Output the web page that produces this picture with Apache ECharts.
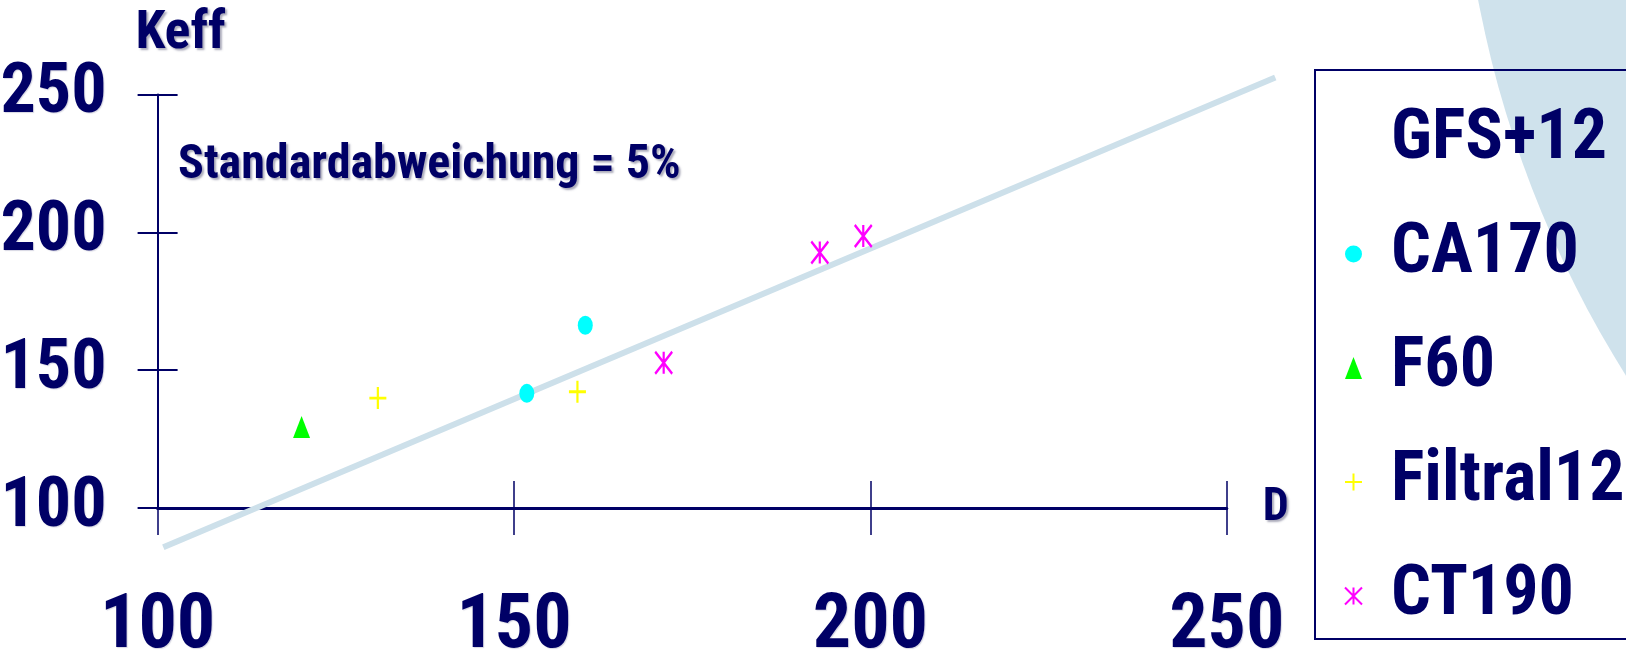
<!DOCTYPE html>
<html>
<head>
<meta charset="utf-8">
<script src="https://cdn.jsdelivr.net/npm/echarts@6/dist/echarts.min.js"></script>
<style>
html,body{margin:0;padding:0;background:#fff;}
#chart{width:1626px;height:658px;}
</style>
</head>
<body>
<div id="chart"></div>
<script>
// ---- data ----
const xTicks = [100, 150, 200, 250];
const yTicks = [100, 150, 200, 250];
const seriesNames = ['GFS+12', 'CA170', 'F60', 'Filtral12', 'CT190'];
const ca170 = [[151.8, 141.6], [160.0, 166.3]];
const f60 = [[120.2, 129.4]];
const filtral12 = [[130.9, 139.9], [158.9, 142.2]];
const ct190 = [[171.0, 152.7], [192.9, 192.7], [199.0, 198.7]];
const fitLine = [[100.8, 85.8], [256.8, 256.1]];
const annotation = 'Standardabweichung = 5%';

// ---- styling / layout ----
const W = 1626, H = 658;
const NAVY = '#000066';
const NARROW = "'Roboto Condensed','Liberation Sans Narrow','DejaVu Sans Condensed',sans-serif";
const shadow = {textShadowColor: 'rgba(90,90,120,0.5)', textShadowBlur: 2, textShadowOffsetX: 2, textShadowOffsetY: 2};
const lightShadow = {textShadowColor: 'rgba(120,120,160,0.3)', textShadowBlur: 1, textShadowOffsetX: 1, textShadowOffsetY: 1};

const ELLIPSE = 'path://M0,10A10,10,0,1,1,20,10A10,10,0,1,1,0,10Z';
const PLUS = 'path://M5,0L5,10M0,5L10,5';
const STAR = 'path://M5,0L5,10M0,0L10,10M10,0L0,10';

const xMin = xTicks[0], xMax = xTicks[xTicks.length - 1];
const yMin = yTicks[0], yMax = yTicks[yTicks.length - 1];
const step = xTicks[1] - xTicks[0];

// main plotting grid
const G = {left: 157.6, right: 399.2, top: 94.4, bottom: 149.9};
const pxPerX = (W - G.left - G.right) / (xMax - xMin);
const pxPerY = (H - G.top - G.bottom) / (yMax - yMin);
// an overlay grid with the same scale but a wider range, for the fitted line that runs past the axes
const ext = {xMin: 100, xMax: 260, yMin: 80, yMax: 260};
const G2 = {
  left: G.left + (ext.xMin - xMin) * pxPerX,
  right: G.right - (ext.xMax - xMax) * pxPerX,
  top: G.top - (ext.yMax - yMax) * pxPerY,
  bottom: G.bottom - (yMin - ext.yMin) * pxPerY
};

function baseX(inside) {
  return {
    gridIndex: 0, type: 'value', min: xMin, max: xMax, interval: step, position: 'bottom',
    name: inside ? '' : 'D', nameLocation: 'end', nameGap: 36,
    nameTextStyle: Object.assign({color: NAVY, fontSize: 46, fontWeight: 'bold', fontFamily: NARROW}, shadow),
    axisLine: {show: !inside, onZero: false, lineStyle: {color: NAVY, width: 3}},
    axisTick: {show: true, inside: inside, length: 27, lineStyle: {color: NAVY, width: 1.5}},
    axisLabel: {show: !inside, margin: 82, color: NAVY, fontSize: 76, fontWeight: 'bold', fontFamily: NARROW,
                showMinLabel: true, showMaxLabel: true, hideOverlap: false, ...lightShadow},
    splitLine: {show: false}
  };
}
function baseY(inside) {
  return {
    gridIndex: 0, type: 'value', min: yMin, max: yMax, interval: step, position: 'left',
    name: inside ? '' : 'Keff', nameLocation: 'end', nameGap: 33,
    nameTextStyle: Object.assign({color: NAVY, fontSize: 54, fontWeight: 'bold', fontFamily: NARROW,
                                  align: 'center', padding: [0, 0, 0, 46]}, shadow),
    axisLine: {show: !inside, onZero: false, lineStyle: {color: NAVY, width: 2}},
    axisTick: {show: true, inside: inside, length: 20, lineStyle: {color: NAVY, width: 2}},
    axisLabel: {show: !inside, margin: 51, color: NAVY, fontSize: 70, fontWeight: 'bold', fontFamily: NARROW,
                showMinLabel: true, showMaxLabel: true, hideOverlap: false, ...lightShadow},
    splitLine: {show: false}
  };
}

const chart = echarts.init(document.getElementById('chart'), null, {renderer: 'canvas'});
chart.setOption({
  animation: false,
  backgroundColor: '#ffffff',
  graphic: [{
    type: 'circle', z: -10, silent: true,
    shape: {cx: 2545, cy: -203, r: 1086},
    style: {fill: '#cfe2ec'}
  }],
  title: {
    text: annotation, left: 178, top: 142, padding: 0,
    textStyle: Object.assign({color: NAVY, fontSize: 48, fontWeight: 'bold', fontFamily: NARROW}, shadow)
  },
  grid: [
    Object.assign({containLabel: false, outerBoundsMode: 'none'}, G),
    Object.assign({containLabel: false, outerBoundsMode: 'none'}, G2)
  ],
  xAxis: [baseX(false), baseX(true),
          {gridIndex: 1, type: 'value', min: ext.xMin, max: ext.xMax, show: false}],
  yAxis: [baseY(false), baseY(true),
          {gridIndex: 1, type: 'value', min: ext.yMin, max: ext.yMax, show: false}],
  legend: {
    orient: 'vertical', left: 1315, top: 70,
    padding: [30, 320, 3, 29],
    borderColor: NAVY, borderWidth: 2,
    backgroundColor: 'transparent',
    itemWidth: 17, itemHeight: 22, itemGap: 34,
    selectedMode: false,
    textStyle: {color: NAVY, fontSize: 70, lineHeight: 80, fontWeight: 'bold', fontFamily: NARROW,
                padding: [0, 0, 0, 24]},
    data: [
      {name: seriesNames[0], icon: 'none'},
      seriesNames[1], seriesNames[2], seriesNames[3], seriesNames[4]
    ]
  },
  series: [
    {
      name: seriesNames[0], type: 'line', data: fitLine, xAxisIndex: 2, yAxisIndex: 2,
      symbol: 'none', silent: true, z: 1,
      lineStyle: {color: '#cde0ea', width: 6}
    },
    {
      name: seriesNames[1], type: 'scatter', data: ca170, symbol: ELLIPSE, symbolSize: [15, 19],
      itemStyle: {color: '#00ffff', borderWidth: 0, opacity: 1}, z: 3
    },
    {
      name: seriesNames[2], type: 'scatter', data: f60, symbol: 'triangle', symbolSize: [17, 22],
      itemStyle: {color: '#00ff00', borderWidth: 0, opacity: 1}, z: 3
    },
    {
      name: seriesNames[3], type: 'scatter', data: filtral12, symbol: PLUS, symbolSize: [17, 22],
      itemStyle: {color: '#ffff00', borderColor: '#ffff00', borderWidth: 2.5, opacity: 1}, z: 3
    },
    {
      name: seriesNames[4], type: 'scatter', data: ct190, symbol: STAR, symbolSize: [17, 22],
      itemStyle: {color: '#ff00ff', borderColor: '#ff00ff', borderWidth: 2.5, opacity: 1}, z: 3
    }
  ]
});
</script>
</body>
</html>
